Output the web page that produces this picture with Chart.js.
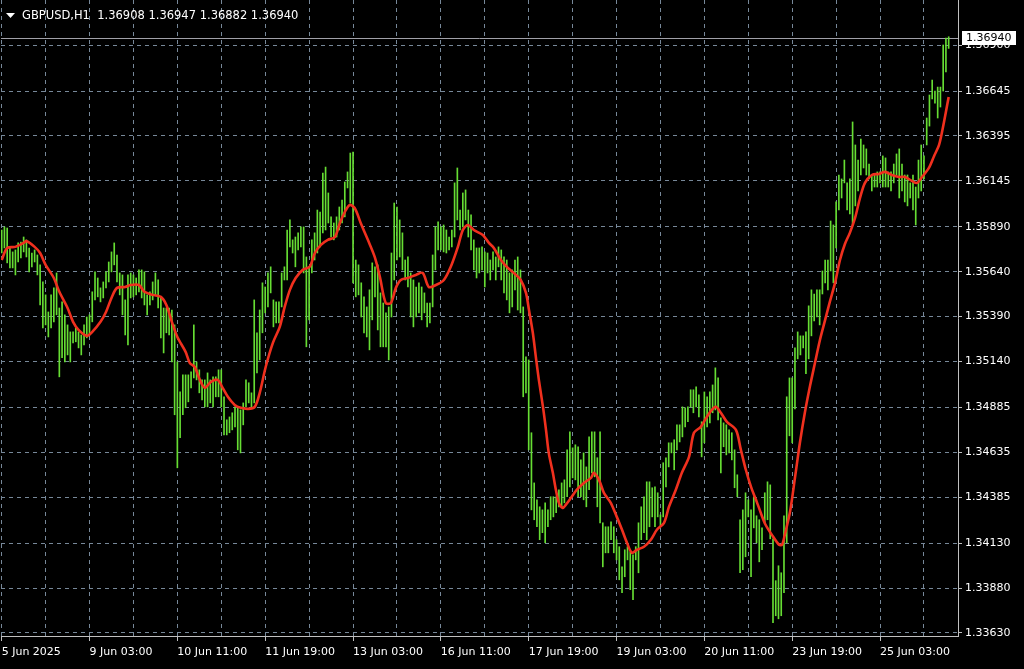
<!DOCTYPE html>
<html>
<head>
<meta charset="utf-8">
<script src="https://cdn.jsdelivr.net/npm/chart.js@4.4.1/dist/chart.umd.min.js"></script>
<style>
  html, body { margin: 0; padding: 0; background: #000; overflow: hidden; }
  #wrap { width: 1024px; height: 669px; }
</style>
</head>
<body>
<div id="wrap"><canvas id="chart" width="1024" height="669"></canvas></div>
<script>
// header of the chart window
const symbolTitle = 'GBPUSD,H1';
const lastOhlc = ['1.36908', '1.36947', '1.36882', '1.36940'];
const lastClose = 1.36940;

// H1 bars, one per hour, high / low
const barHighs = [
  1.35872,1.35889,1.35883,1.35778,1.35750,1.35761,1.35800,1.35805,1.35833,1.35817,
  1.35772,1.35744,1.35761,1.35733,1.35678,1.35583,1.35511,1.35416,1.35511,1.35550,
  1.35633,1.35438,1.35472,1.35400,1.35344,1.35305,1.35305,1.35327,1.35305,1.35288,
  1.35344,1.35388,1.35400,1.35528,1.35639,1.35605,1.35550,1.35583,1.35639,1.35694,
  1.35750,1.35800,1.35733,1.35633,1.35622,1.35483,1.35622,1.35633,1.35622,1.35605,
  1.35650,1.35650,1.35639,1.35511,1.35528,1.35583,1.35633,1.35594,1.35494,1.35438,
  1.35438,1.35438,1.35427,1.35344,1.35138,1.34971,1.35066,1.35066,1.35066,1.35083,
  1.35344,1.35138,1.35094,1.35038,1.35038,1.35077,1.35038,1.35055,1.35055,1.35094,
  1.35094,1.34944,1.34816,1.34832,1.34855,1.34888,1.34888,1.34871,1.34910,1.35038,
  1.35022,1.34966,1.35483,1.35300,1.35427,1.35578,1.35555,1.35633,1.35667,1.35483,
  1.35472,1.35472,1.35633,1.35667,1.35872,1.35928,1.35817,1.35833,1.35856,1.35889,
  1.35889,1.35722,1.35667,1.35817,1.35856,1.35983,1.35972,1.36189,1.36222,1.36078,
  1.35945,1.35911,1.35945,1.36000,1.36039,1.36139,1.36195,1.36300,1.36306,1.35705,
  1.35678,1.35578,1.35500,1.35444,1.35539,1.35689,1.35667,1.35678,1.35522,1.35466,
  1.35411,1.35444,1.35744,1.36022,1.36000,1.35928,1.35856,1.35705,1.35722,1.35633,
  1.35594,1.35555,1.35578,1.35555,1.35522,1.35466,1.35466,1.35733,1.35889,1.35917,
  1.35889,1.35900,1.35872,1.35833,1.35872,1.36134,1.36217,1.35983,1.36078,1.36095,
  1.35983,1.35956,1.35817,1.35772,1.35772,1.35778,1.35750,1.35744,1.35705,1.35750,
  1.35722,1.35778,1.35761,1.35722,1.35705,1.35633,1.35650,1.35705,1.35722,1.35650,
  1.35444,1.35166,1.35149,1.34744,1.34465,1.34371,1.34332,1.34315,1.34354,1.34315,
  1.34388,1.34388,1.34388,1.34427,1.34465,1.34482,1.34649,1.34749,1.34660,1.34677,
  1.34666,1.34593,1.34632,1.34554,1.34721,1.34749,1.34749,1.34605,1.34749,1.34243,
  1.34221,1.34221,1.34249,1.34221,1.34149,1.34110,1.33998,1.34093,1.34110,1.34082,
  1.34065,1.34110,1.34243,1.34332,1.34388,1.34471,1.34471,1.34438,1.34443,1.34410,
  1.34287,1.34577,1.34605,1.34688,1.34688,1.34705,1.34788,1.34788,1.34888,1.34883,
  1.34888,1.34983,1.34983,1.34999,1.34955,1.34805,1.34971,1.34944,1.34971,1.35010,
  1.35105,1.35049,1.34827,1.34799,1.34788,1.34760,1.34744,1.34649,1.34510,1.34260,
  1.34315,1.34410,1.34371,1.34315,1.34388,1.34282,1.34260,1.34215,1.34410,1.34471,
  1.34454,1.34154,1.33921,1.34004,1.33965,1.34282,1.34944,1.35049,1.35049,1.35216,
  1.35305,1.35283,1.35283,1.35305,1.35450,1.35539,1.35516,1.35539,1.35539,1.35644,
  1.35705,1.35705,1.35922,1.35900,1.36028,1.36178,1.36156,1.36261,1.36134,1.36156,
  1.36473,1.36345,1.36261,1.36378,1.36345,1.36323,1.36239,1.36178,1.36178,1.36195,
  1.36195,1.36284,1.36273,1.36195,1.36195,1.36239,1.36295,1.36323,1.36239,1.36178,
  1.36178,1.36134,1.36178,1.36111,1.36261,1.36345,1.36284,1.36495,1.36623,1.36706,
  1.36645,1.36667,1.36667,1.36901,1.36940,1.36947
];
const barLows = [
  1.35744,1.35772,1.35689,1.35661,1.35661,1.35622,1.35694,1.35717,1.35750,1.35722,
  1.35639,1.35667,1.35694,1.35622,1.35455,1.35327,1.35344,1.35277,1.35327,1.35361,
  1.35400,1.35055,1.35161,1.35138,1.35177,1.35138,1.35244,1.35250,1.35216,1.35177,
  1.35233,1.35272,1.35288,1.35361,1.35483,1.35500,1.35472,1.35494,1.35550,1.35583,
  1.35639,1.35678,1.35583,1.35511,1.35400,1.35288,1.35233,1.35494,1.35500,1.35511,
  1.35528,1.35494,1.35455,1.35400,1.35455,1.35483,1.35511,1.35438,1.35272,1.35188,
  1.35300,1.35288,1.35138,1.34844,1.34549,1.34716,1.34844,1.34883,1.34916,1.34994,
  1.35049,1.35038,1.34966,1.34927,1.34888,1.34888,1.34910,1.34888,1.34944,1.34944,
  1.34888,1.34732,1.34732,1.34744,1.34760,1.34777,1.34649,1.34632,1.34788,1.34888,
  1.34910,1.34888,1.34910,1.35077,1.35149,1.35300,1.35411,1.35444,1.35522,1.35333,
  1.35355,1.35355,1.35444,1.35594,1.35594,1.35778,1.35744,1.35667,1.35761,1.35778,
  1.35633,1.35222,1.35372,1.35633,1.35705,1.35744,1.35778,1.35856,1.35872,1.35911,
  1.35833,1.35817,1.35833,1.35872,1.35911,1.35945,1.36106,1.36022,1.35578,1.35500,
  1.35511,1.35388,1.35300,1.35277,1.35205,1.35372,1.35500,1.35316,1.35222,1.35222,
  1.35222,1.35149,1.35388,1.35594,1.35705,1.35722,1.35650,1.35594,1.35555,1.35388,
  1.35333,1.35388,1.35411,1.35372,1.35411,1.35333,1.35355,1.35444,1.35650,1.35761,
  1.35761,1.35750,1.35744,1.35761,1.35778,1.35833,1.35928,1.35872,1.35889,1.35928,
  1.35833,1.35761,1.35650,1.35605,1.35633,1.35650,1.35555,1.35633,1.35594,1.35650,
  1.35594,1.35667,1.35594,1.35522,1.35483,1.35411,1.35444,1.35539,1.35427,1.35411,
  1.34944,1.34966,1.34649,1.34315,1.34260,1.34221,1.34149,1.34188,1.34132,1.34221,
  1.34260,1.34276,1.34299,1.34332,1.34332,1.34354,1.34388,1.34443,1.34493,1.34482,
  1.34388,1.34388,1.34371,1.34332,1.34427,1.34521,1.34499,1.34332,1.34243,1.33998,
  1.34076,1.34076,1.34149,1.34076,1.34037,1.33926,1.33854,1.33943,1.34037,1.33871,
  1.33815,1.34037,1.33965,1.34149,1.34188,1.34149,1.34221,1.34276,1.34221,1.34276,
  1.34221,1.34276,1.34443,1.34554,1.34632,1.34538,1.34649,1.34693,1.34721,1.34777,
  1.34805,1.34888,1.34855,1.34888,1.34832,1.34610,1.34688,1.34777,1.34799,1.34855,
  1.34871,1.34816,1.34521,1.34666,1.34621,1.34632,1.34593,1.34438,1.34388,1.33965,
  1.33982,1.34054,1.34276,1.33943,1.34215,1.34132,1.34026,1.34093,1.34238,1.34260,
  1.34154,1.33687,1.33726,1.33709,1.33726,1.33854,1.34132,1.34727,1.34688,1.34877,
  1.35155,1.35177,1.35216,1.35072,1.35155,1.35283,1.35366,1.35388,1.35344,1.35516,
  1.35578,1.35539,1.35644,1.35578,1.35772,1.35983,1.36050,1.36134,1.35983,1.35961,
  1.35900,1.36006,1.36089,1.36178,1.36217,1.36178,1.36156,1.36089,1.36111,1.36111,
  1.36134,1.36111,1.36111,1.36111,1.36089,1.36134,1.36178,1.36050,1.36089,1.36028,
  1.36006,1.36050,1.35983,1.35900,1.36050,1.36089,1.36156,1.36345,1.36450,1.36601,
  1.36578,1.36495,1.36556,1.36645,1.36751,1.36882
];

// moving average (bar position, value)
const maBars = [
  0,2,5,8,9,12,14,16,19,21,24,26,28,31,33,36,38,40,42,45,47,50,52,55,58,60,62,64,67,68.5,
  70.3,72.2,74,76.2,78.7,80.5,82.4,84.9,87.1,89.7,92.2,94,96.2,98.8,101.3,103.1,105,107.1,109.7,112.2,
  114.1,116.3,118.8,121.4,123.2,125,126.8,128.6,130.8,133.4,135.9,137.8,139.9,141.8,143.6,145.4,148,150.9,153.4,155.6,
  158.2,161.1,163.6,166.2,168,169.8,172,175.3,177.5,179.3,181.9,184.4,186.6,189.1,191,192.1,193.5,194.6,195.7,197.2,
  198.3,199.3,200.8,201.9,203,204.4,205.5,207.4,209.5,212.1,214.7,215.7,217.6,219.4,221.9,224.1,226,227.8,229.6,231.4,
  234,236.5,238.7,241.3,243.1,245.6,247.8,250.4,252.2,254.7,256.9,258.7,260.2,262,264.2,267.5,269.3,271.1,273,274.8,
  275.9,278.1,280.6,283.2,284.3,285.3,287.2,289,290.8,292.6,294.5,296.3,298.1,299.9,301.7,303.6,305.4,307.2,309,310.9,
  312.7,314.5,317,319.6,321.8,324.3,326.9,329.1,331.6,333.5,335.3,337.8,339.7,341.5,343.3,345
];
const maValues = [
  1.35705,1.35772,1.35778,1.35800,1.35811,1.35778,1.35744,1.35678,1.35605,1.35528,1.35438,1.35361,1.35316,1.35283,1.35305,
  1.35361,1.35416,1.35494,1.35550,1.35555,1.35566,1.35566,1.35528,1.35511,1.35500,1.35455,1.35361,1.35277,1.35194,1.35133,
  1.35111,1.35038,1.34994,1.35027,1.35038,1.34994,1.34944,1.34899,1.34883,1.34877,1.34888,1.34966,1.35111,1.35244,1.35333,
  1.35444,1.35539,1.35605,1.35650,1.35667,1.35744,1.35789,1.35817,1.35833,1.35911,1.35972,1.36011,1.35994,1.35911,1.35817,
  1.35722,1.35610,1.35466,1.35466,1.35550,1.35594,1.35605,1.35622,1.35633,1.35555,1.35566,1.35594,1.35667,1.35778,1.35872,
  1.35900,1.35872,1.35844,1.35800,1.35772,1.35705,1.35661,1.35633,1.35594,1.35522,1.35427,1.35300,1.35166,1.35038,1.34888,
  1.34760,1.34632,1.34521,1.34427,1.34354,1.34326,1.34343,1.34382,1.34427,1.34465,1.34493,1.34521,1.34482,1.34410,1.34354,
  1.34276,1.34204,1.34132,1.34076,1.34093,1.34110,1.34149,1.34204,1.34243,1.34332,1.34427,1.34521,1.34610,1.34744,1.34777,
  1.34832,1.34871,1.34888,1.34855,1.34805,1.34760,1.34649,1.34538,1.34443,1.34371,1.34326,1.34238,1.34176,1.34121,1.34121,
  1.34176,1.34304,1.34493,1.34688,1.34855,1.35005,1.35133,1.35260,1.35366,1.35472,1.35578,1.35705,1.35794,1.35856,1.35939,
  1.36050,1.36134,1.36178,1.36184,1.36195,1.36178,1.36167,1.36167,1.36145,1.36134,1.36167,1.36217,1.36284,1.36345,1.36473,
  1.36612
];

// price axis labels
const priceTicks = [1.33630, 1.33880, 1.34130, 1.34385, 1.34635, 1.34885, 1.35140,
                    1.35390, 1.35640, 1.35890, 1.36145, 1.36395, 1.36645, 1.36900];
const priceLabels = ['1.33630', '1.33880', '1.34130', '1.34385', '1.34635', '1.34885', '1.35140',
                     '1.35390', '1.35640', '1.35890', '1.36145', '1.36395', '1.36645', '1.36900'];

// time axis: grid every 16 bars, label every 32
const gridBars = [0,16,32,48,64,80,96,112,128,144,160,176,192,208,224,240,256,272,288,304,320,336];
const labelBars = [0,32,64,96,128,160,192,224,256,288,320];
const timeLabels = ['5 Jun 2025', '9 Jun 03:00', '10 Jun 11:00', '11 Jun 19:00', '13 Jun 03:00',
                    '16 Jun 11:00', '17 Jun 19:00', '19 Jun 03:00', '20 Jun 11:00', '23 Jun 19:00', '25 Jun 03:00'];

const GRID = '#778899';
const FRAME = '#c0c0c0';
const FG = '#ffffff';
const FONT_FAMILY = "'DejaVu Sans', sans-serif";

Chart.defaults.font.family = FONT_FAMILY;
Chart.defaults.font.size = 11;
Chart.defaults.color = FG;

const bars = barHighs.map((h, i) => ({ x: i, y: [barLows[i], h] }));
const ma = maBars.map((b, i) => ({ x: b, y: maValues[i] }));

// price line, bid label and the symbol header
const terminalOverlay = {
  id: 'terminalOverlay',
  beforeDatasetsDraw(chart) {
    const { ctx, chartArea, scales } = chart;
    const y = Math.round(scales.y.getPixelForValue(lastClose)) + 0.5;
    ctx.save();
    ctx.strokeStyle = '#a0a0a8';
    ctx.lineWidth = 1;
    ctx.beginPath();
    ctx.moveTo(chartArea.left, y);
    ctx.lineTo(chartArea.right, y);
    ctx.stroke();
    ctx.restore();
  },
  afterDraw(chart) {
    const { ctx, chartArea, scales } = chart;
    const y = Math.round(scales.y.getPixelForValue(lastClose));
    ctx.save();
    ctx.font = '11px ' + FONT_FAMILY;
    ctx.textBaseline = 'middle';

    // bid box on the price scale
    ctx.fillStyle = '#ffffff';
    ctx.fillRect(chartArea.right + 4, y - 7, 54, 14);
    ctx.fillStyle = '#000000';
    ctx.textAlign = 'left';
    ctx.fillText(lastOhlc[3], chartArea.right + 8, y + 0.5);

    // header
    ctx.fillStyle = FG;
    ctx.beginPath();
    ctx.moveTo(6, 13);
    ctx.lineTo(15, 13);
    ctx.lineTo(10.5, 18);
    ctx.closePath();
    ctx.fill();
    ctx.font = '11.5px ' + FONT_FAMILY;
    ctx.fillText(symbolTitle + '  ' + lastOhlc.join(' '), 22, 16);
    ctx.restore();
  }
};

new Chart(document.getElementById('chart').getContext('2d'), {
  type: 'bar',
  data: {
    datasets: [
      {
        type: 'line',
        data: ma,
        borderColor: '#f0301e',
        borderWidth: 2.6,
        pointRadius: 0,
        tension: 0.3,
        order: 0
      },
      {
        type: 'bar',
        data: bars,
        backgroundColor: '#66dd33',
        borderWidth: 0,
        barThickness: 1,
        grouped: false,
        order: 1
      }
    ]
  },
  options: {
    responsive: false,
    animation: false,
    devicePixelRatio: 1,
    layout: { padding: { left: 1, top: 0, right: 0, bottom: 0 } },
    plugins: {
      legend: { display: false },
      tooltip: { enabled: false }
    },
    scales: {
      x: {
        type: 'linear',
        min: -0.25,
        max: 348.4,
        offset: false,
        afterBuildTicks: s => { s.ticks = gridBars.map(v => ({ value: v })); },
        afterFit: s => { s.height = 33; s.paddingLeft = 0; s.paddingRight = 0; },
        grid: {
          offset: false,
          color: GRID,
          tickLength: 5,
          tickColor: c => (c.tick && labelBars.includes(c.tick.value)) ? FRAME : 'rgba(0,0,0,0)',
          tickBorderDash: []
        },
        border: { color: FRAME, width: 1, dash: [4, 4] },
        ticks: {
          autoSkip: false,
          maxRotation: 0,
          align: 'start',
          padding: 5,
          color: FG,
          callback: v => {
            const k = labelBars.indexOf(v);
            return k >= 0 ? timeLabels[k] : '';
          }
        }
      },
      y: {
        type: 'linear',
        position: 'right',
        min: 1.336133,
        max: 1.371514,
        afterBuildTicks: s => { s.ticks = priceTicks.map(v => ({ value: v })); },
        afterFit: s => { s.width = 66; s.paddingTop = 0; s.paddingBottom = 0; },
        grid: {
          color: GRID,
          tickLength: 4,
          tickColor: FRAME,
          tickBorderDash: []
        },
        border: { color: FRAME, width: 1, dash: [4, 4] },
        ticks: {
          crossAlign: 'near',
          padding: 3,
          color: FG,
          callback: (v, i) => priceLabels[i]
        }
      }
    }
  },
  plugins: [terminalOverlay]
});
</script>
</body>
</html>
